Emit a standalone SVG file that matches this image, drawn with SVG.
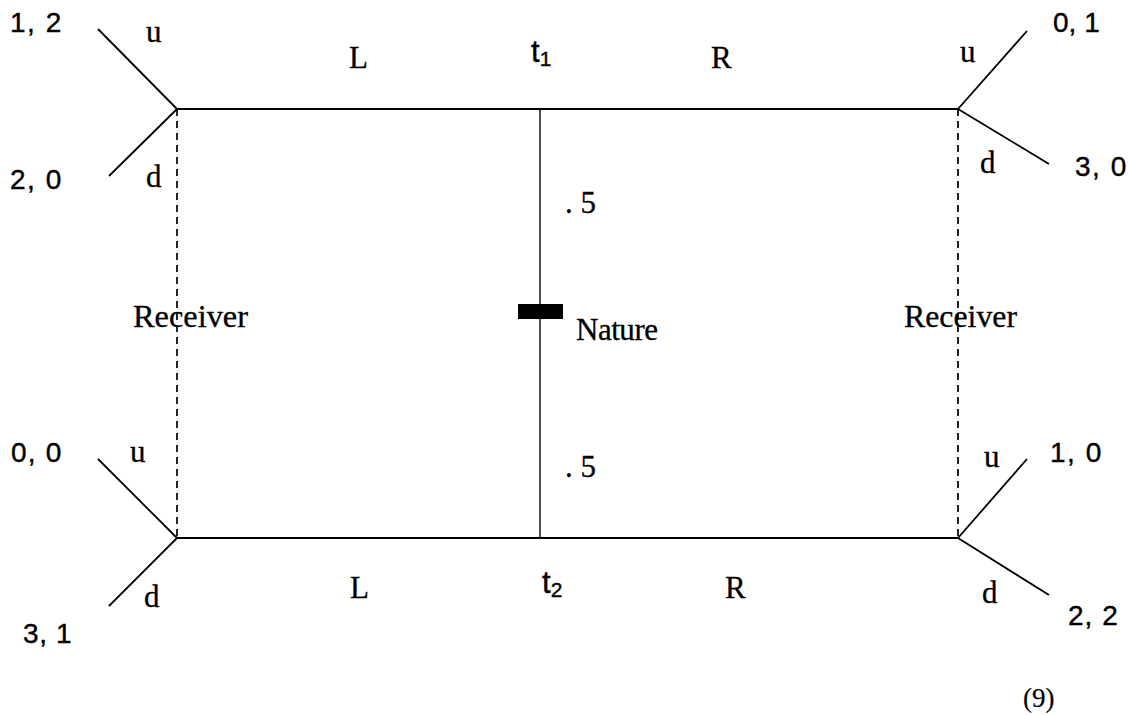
<svg xmlns="http://www.w3.org/2000/svg" width="1128" height="715" viewBox="0 0 1128 715">
<style>
.ln{stroke:#000;stroke-width:2.2;fill:none;stroke-linecap:round}
.br{stroke:#000;stroke-width:1.8;fill:none}
.ds{stroke:#000;stroke-width:1.7;stroke-dasharray:7,5;fill:none}
.nv{stroke:#000;stroke-width:1.4;fill:none}
.sf{font-family:"Liberation Serif","Times New Roman",serif;font-size:31px;fill:#000;stroke:#000;stroke-width:0.3}
.ss{font-family:"Liberation Sans",Arial,sans-serif;font-size:28px;fill:#000;stroke:#000;stroke-width:0.4}
.tt{font-size:31px}
.sub{font-size:21px}
</style>
<rect width="1128" height="715" fill="#fff"/>
<g id="connectors">
<line class="ln" x1="177" y1="109" x2="958" y2="109"/>
<line class="ln" x1="177" y1="538" x2="958" y2="538"/>
<line class="nv" x1="540" y1="109" x2="540" y2="538"/>
<line class="ds" x1="177" y1="109" x2="177" y2="538"/>
<line class="ds" x1="958" y1="109" x2="958" y2="538"/>
<line class="br" x1="177" y1="109" x2="98" y2="29"/>
<line class="br" x1="177" y1="109" x2="109" y2="176"/>
<line class="br" x1="958" y1="109" x2="1027" y2="31"/>
<line class="br" x1="958" y1="109" x2="1049" y2="164"/>
<line class="br" x1="177" y1="538" x2="98" y2="459"/>
<line class="br" x1="177" y1="538" x2="109" y2="606"/>
<line class="br" x1="958" y1="538" x2="1027" y2="459"/>
<line class="br" x1="958" y1="538" x2="1049" y2="595"/>
</g>
<g id="nature">
<rect x="518" y="304" width="45" height="15" fill="#000"/>
<text class="sf" x="576" y="340" textLength="82">Nature</text>
<text class="sf" x="565" y="213">. 5</text>
<text class="sf" x="565" y="477">. 5</text>
</g>
<g id="t1">
<text class="ss tt" x="531" y="62">t<tspan class="sub" dy="4">1</tspan></text>
<text class="sf" x="349" y="68">L</text>
<text class="sf" x="711" y="68">R</text>
</g>
<g id="t2">
<text class="ss tt" x="542" y="593">t<tspan class="sub" dy="4">2</tspan></text>
<text class="sf" x="350" y="598">L</text>
<text class="sf" x="725" y="598">R</text>
</g>
<g id="receiver-left">
<text class="sf" x="133" y="327" textLength="115" lengthAdjust="spacingAndGlyphs">Receiver</text>
<text class="sf" x="146" y="42">u</text>
<text class="sf" x="146" y="187">d</text>
<text class="sf" x="130" y="462">u</text>
<text class="sf" x="144" y="607">d</text>
</g>
<g id="receiver-right">
<text class="sf" x="904" y="327" textLength="113" lengthAdjust="spacingAndGlyphs">Receiver</text>
<text class="sf" x="960" y="62">u</text>
<text class="sf" x="980" y="173">d</text>
<text class="sf" x="984" y="467">u</text>
<text class="sf" x="982" y="603">d</text>
</g>
<g id="payoffs">
<text class="ss" x="10" y="32" letter-spacing="1.5">1, 2</text>
<text class="ss" x="10" y="189" letter-spacing="1.5">2, 0</text>
<text class="ss" x="1053" y="32" letter-spacing="0">0, 1</text>
<text class="ss" x="1075" y="176" letter-spacing="1.5">3, 0</text>
<text class="ss" x="11" y="462" letter-spacing="1.2">0, 0</text>
<text class="ss" x="23" y="643" letter-spacing="0.6">3, 1</text>
<text class="ss" x="1050" y="462" letter-spacing="1.5">1, 0</text>
<text class="ss" x="1068" y="625" letter-spacing="1">2, 2</text>
</g>
<text class="sf" x="1023" y="707" style="font-size:27px;stroke-width:0.2">(9)</text>
</svg>
